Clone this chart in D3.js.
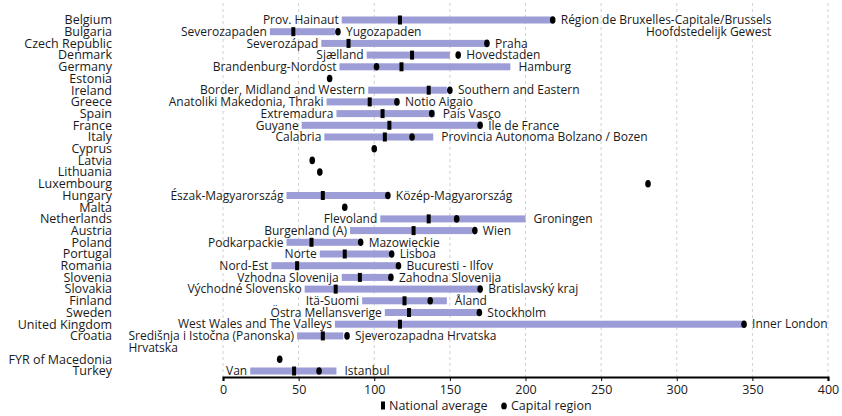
<!DOCTYPE html>
<html>
<head>
<meta charset="utf-8">
<script src="https://cdn.jsdelivr.net/npm/d3@7"></script>
<style>
  body { margin: 0; background: #fff; }
  text { font-family: "Open Sans", sans-serif; fill: #1a1a1a; }
</style>
</head>
<body>
<div id="chart"></div>
<script>
const countries = ['Belgium', 'Bulgaria', 'Czech Republic', 'Denmark', 'Germany', 'Estonia', 'Ireland', 'Greece', 'Spain', 'France', 'Italy', 'Cyprus', 'Latvia', 'Lithuania', 'Luxembourg', 'Hungary', 'Malta', 'Netherlands', 'Austria', 'Poland', 'Portugal', 'Romania', 'Slovenia', 'Slovakia', 'Finland', 'Sweden', 'United Kingdom', 'Croatia', 'FYR of Macedonia', 'Turkey'];

const minRegions = ['Prov. Hainaut', 'Severozapaden', 'Severozápad', 'Sjælland', 'Brandenburg-Nordost', '', 'Border, Midland and Western', 'Anatoliki Makedonia, Thraki', 'Extremadura', 'Guyane', 'Calabria', '', '', '', '', 'Észak-Magyarország', '', 'Flevoland', 'Burgenland (A)', 'Podkarpackie', 'Norte', 'Nord-Est', 'Vzhodna Slovenija', 'Východné Slovensko', 'Itä-Suomi', 'Östra Mellansverige', 'West Wales and The Valleys', 'Središnja i Istočna (Panonska)\nHrvatska', '', 'Van'];

const maxRegions = ['Région de Bruxelles-Capitale/Brussels\nHoofdstedelijk Gewest', 'Yugozapaden', 'Praha', 'Hovedstaden', 'Hamburg', '', 'Southern and Eastern', 'Notio Aigaio', 'País Vasco', 'Île de France', 'Provincia Autonoma Bolzano / Bozen', '', '', '', '', 'Közép-Magyarország', '', 'Groningen', 'Wien', 'Mazowieckie', 'Lisboa', 'Bucuresti - Ilfov', 'Zahodna Slovenija', 'Bratislavský kraj', 'Åland', 'Stockholm', 'Inner London', 'Sjeverozapadna Hrvatska', '', 'Istanbul'];

const minValues = [78.5, 31, 65, 95, 77, null, 96, 68.5, 75, 52, 67, null, null, null, null, 42, null, 104, 84, 42, 64, 32, 78.5, 54, 92, 107, 74, 49, null, 18];
const maxValues = [217, 74, 174, 150, 190, null, 148, 115, 140, 169, 139, null, null, null, null, 108, null, 200, 165, 89.5, 110, 115, 110, 169, 148, 168.5, 344, 79.5, null, 75];
const nationalAvg = [117, 46.5, 83, 125, 118, null, 136, 97, 105.5, 110, 107, null, null, null, null, 66, null, 136, 126, 58.5, 80.5, 49, 90.5, 74.5, 120, 123, 117, 66, null, 47];
const capitalValues = [218, 76, 174.5, 155.5, 101.5, 70.5, 150, 115, 138, 170, 125, 100, 59, 64, 281, 109, 80.5, 154.5, 166.5, 91, 111.5, 116, 111, 170, 137, 169.5, 344.5, 82, 37.5, 63.5];

const xTicks = [0, 50, 100, 150, 200, 250, 300, 350, 400];

const width = 842, height = 416;
const barColor = '#9c9cd6';

const data = countries.map((c, i) => ({
  country: c,
  minRegion: minRegions[i],
  maxRegion: maxRegions[i],
  min: minValues[i],
  max: maxValues[i],
  nat: nationalAvg[i],
  cap: capitalValues[i]
}));

// extra slot after Croatia for the wrapped "Hrvatska" line
const rowKeys = countries.slice(0, 28).concat(['_wrap'], countries.slice(28));

const svg = d3.select('#chart').append('svg')
  .attr('width', width)
  .attr('height', height);

const x = d3.scaleLinear().domain([0, 400]).range([223, 828]);
const y = d3.scalePoint().domain(rowKeys).range([20, 371]);
const axisY = 377;

// gridlines
svg.append('g')
  .selectAll('line')
  .data(xTicks).enter()
  .append('line')
  .attr('x1', d => x(d)).attr('x2', d => x(d))
  .attr('y1', 3).attr('y2', axisY)
  .attr('stroke', '#d0d0d0')
  .attr('stroke-dasharray', '3,3');

// x axis
const xAxis = d3.axisBottom(x).tickValues(xTicks).tickSize(4).tickPadding(4);
const ax = svg.append('g')
  .attr('transform', `translate(0, ${axisY})`)
  .call(xAxis);
ax.select('.domain').attr('stroke', '#000').attr('stroke-width', 2.2);
ax.selectAll('.tick line').attr('stroke', '#000');
ax.selectAll('.tick text')
  .style('font-family', '"Open Sans", sans-serif')
  .style('font-size', '12.5px')
  .attr('fill', '#333');

// country labels
svg.append('g')
  .selectAll('text')
  .data(data).enter()
  .append('text')
  .attr('x', 112)
  .attr('y', d => y(d.country))
  .attr('dy', '0.35em')
  .attr('text-anchor', 'end')
  .style('font-size', '12.5px')
  .text(d => d.country);

// range bars
const ranged = data.filter(d => d.min != null);
svg.append('g')
  .selectAll('rect')
  .data(ranged).enter()
  .append('rect')
  .attr('x', d => x(d.min))
  .attr('y', d => y(d.country) - 3.5)
  .attr('width', d => x(d.max) - x(d.min))
  .attr('height', 7)
  .attr('fill', barColor);

// national averages
svg.append('g')
  .selectAll('rect')
  .data(data.filter(d => d.nat != null)).enter()
  .append('rect')
  .attr('x', d => x(d.nat) - 2)
  .attr('y', d => y(d.country) - 4.5)
  .attr('width', 4)
  .attr('height', 9)
  .attr('fill', '#000');

// capital regions
svg.append('g')
  .selectAll('ellipse')
  .data(data).enter()
  .append('ellipse')
  .attr('cx', d => x(d.cap))
  .attr('cy', d => y(d.country))
  .attr('rx', 2.8)
  .attr('ry', 3.8)
  .attr('fill', '#000');

// region labels (a second line, if any, is aligned to the outer edge of the first)
const labels = svg.append('g').style('font-size', '12px');
ranged.forEach(d => {
  const cy = y(d.country);

  const left = d.minRegion.split('\n');
  const lx = x(d.min) - 3;
  const l1 = labels.append('text')
    .attr('x', lx).attr('y', cy).attr('dy', '0.35em')
    .attr('text-anchor', 'end')
    .text(left[0]);
  if (left[1]) {
    const w = l1.node().getComputedTextLength();
    labels.append('text')
      .attr('x', lx - w).attr('y', cy + 12).attr('dy', '0.35em')
      .text(left[1]);
  }

  const right = d.maxRegion.split('\n');
  const rx = x(Math.max(d.max, d.cap)) + 8;
  const r1 = labels.append('text')
    .attr('x', rx).attr('y', cy).attr('dy', '0.35em')
    .text(right[0]);
  if (right[1]) {
    const w = r1.node().getComputedTextLength();
    labels.append('text')
      .attr('x', rx + w).attr('y', cy + 12).attr('dy', '0.35em')
      .attr('text-anchor', 'end')
      .text(right[1]);
  }
});

// legend
const legend = svg.append('g').attr('transform', 'translate(0, 406)');
legend.append('rect')
  .attr('x', 381).attr('y', -4.5).attr('width', 4).attr('height', 8)
  .attr('fill', '#000');
legend.append('text')
  .attr('x', 389).attr('dy', '0.35em')
  .style('font-size', '12.5px')
  .text('National average');
legend.append('ellipse')
  .attr('cx', 504).attr('rx', 2.8).attr('ry', 3.6)
  .attr('fill', '#000');
legend.append('text')
  .attr('x', 511).attr('dy', '0.35em')
  .style('font-size', '12.5px')
  .text('Capital region');
</script>
</body>
</html>
